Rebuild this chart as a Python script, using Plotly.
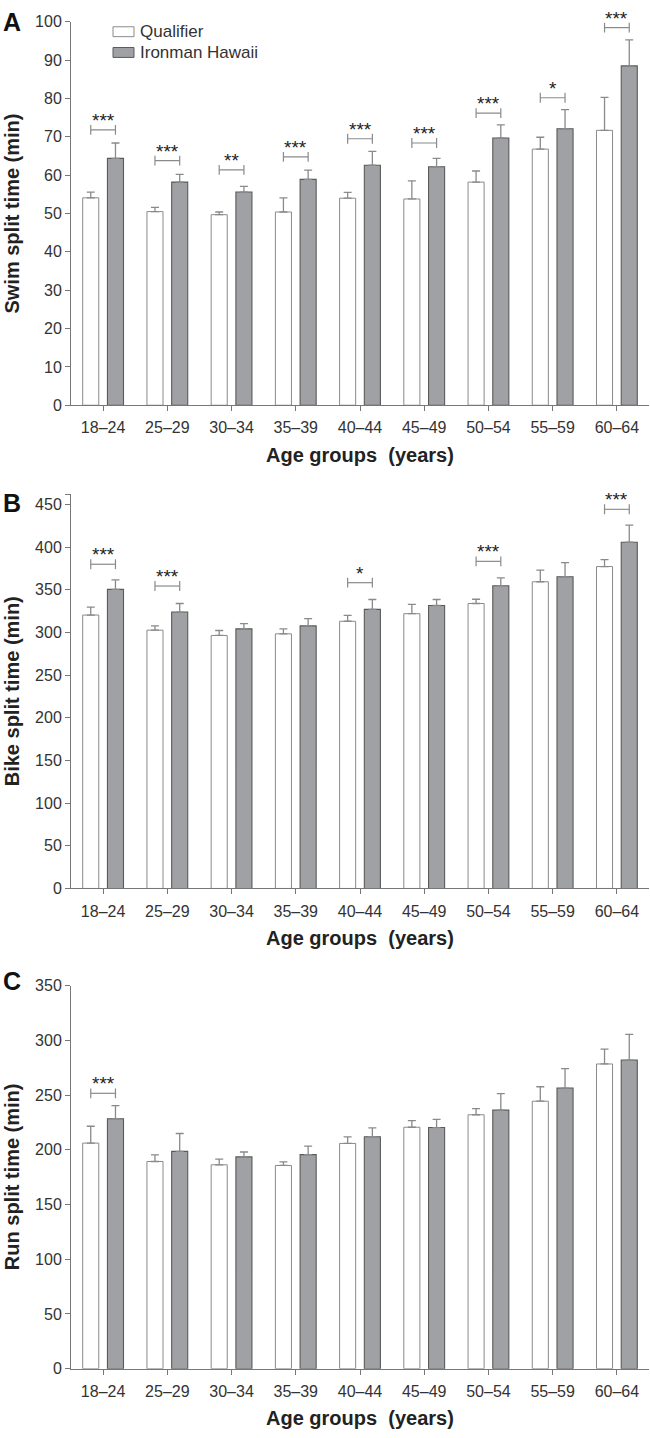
import plotly.graph_objects as go
import numpy as np

categories = ["18–24", "25–29", "30–34", "35–39", "40–44", "45–49", "50–54", "55–59", "60–64"]

swim_q = [54.1, 50.5, 49.7, 50.4, 54.0, 53.8, 58.2, 66.8, 71.7]
swim_q_err = [1.5, 1.1, 0.7, 3.7, 1.5, 4.7, 2.9, 3.1, 8.6]
swim_h = [64.4, 58.2, 55.6, 58.9, 62.6, 62.2, 69.7, 72.1, 88.5]
swim_h_err = [4.0, 2.0, 1.5, 2.4, 3.6, 2.2, 3.4, 5.0, 6.8]
swim_sig = ["***", "***", "**", "***", "***", "***", "***", "*", "***"]
swim_bracket = [71.8, 63.8, 61.4, 64.8, 69.5, 68.4, 76.2, 80.2, 98.5]

bike_q = [320.3, 302.6, 296.4, 298.3, 313.0, 321.9, 333.8, 359.3, 377.1]
bike_q_err = [9.3, 5.0, 5.8, 5.8, 7.0, 10.8, 5.0, 13.5, 8.1]
bike_h = [350.4, 323.8, 304.1, 307.6, 326.9, 331.5, 354.7, 365.1, 405.6]
bike_h_err = [11.2, 10.0, 6.2, 8.5, 11.6, 7.0, 9.2, 16.6, 20.1]
bike_sig = ["***", "***", "", "", "*", "", "***", "", "***"]
bike_bracket = [379.8, 354.3, None, None, 358.2, None, 383.2, None, 444.2]

run_q = [206.1, 189.3, 186.3, 185.7, 205.8, 220.6, 232.0, 244.4, 278.4]
run_q_err = [15.4, 6.0, 5.1, 3.3, 6.0, 6.0, 5.7, 13.2, 13.5]
run_h = [228.4, 198.6, 193.5, 195.6, 211.9, 220.3, 236.2, 256.4, 282.0]
run_h_err = [12.0, 16.3, 4.5, 7.8, 8.1, 7.5, 15.1, 17.7, 23.4]
run_sig = ["***", "", "", "", "", "", "", "", ""]
run_bracket = [251.6, None, None, None, None, None, None, None, None]

W, H = 650, 1438
FONT = "Arial, Liberation Sans, sans-serif"
X0, X1 = 71, 649
BARGAP, GROUPGAP = 0.23, 0.35
OFFS = (1 - BARGAP) / 4  # centre offset of each bar within a group

panels = [
    dict(letter="A", title="Swim split time (min)", q=swim_q, qe=swim_q_err, h=swim_h, he=swim_h_err,
         sig=swim_sig, br=swim_bracket, top=14, bottom=402, rng=[0, 100],
         tickvals=list(range(0, 101, 10)), ticktext=[str(v) for v in range(0, 101, 10)], letter_y=14),
    dict(letter="B", title="Bike split time (min)", q=bike_q, qe=bike_q_err, h=bike_h, he=bike_h_err,
         sig=bike_sig, br=bike_bracket, top=491.9, bottom=891, rng=[0, 462],
         tickvals=list(range(0, 451, 50)) + [462], ticktext=[str(v) for v in range(0, 451, 50)] + [""], letter_y=501),
    dict(letter="C", title="Run split time (min)", q=run_q, qe=run_q_err, h=run_h, he=run_h_err,
         sig=run_sig, br=run_bracket, top=989.3, bottom=1377, rng=[0, 350],
         tickvals=list(range(0, 351, 50)), ticktext=[str(v) for v in range(0, 351, 50)], letter_y=985),
]

fig = go.Figure()
annotations = []
shapes = []
xs = np.arange(len(categories))

for i, p in enumerate(panels):
    n = "" if i == 0 else str(i + 1)
    xa, ya = "x" + n, "y" + n
    fig.add_trace(go.Bar(
        x=xs, y=p["q"], xaxis=xa, yaxis=ya, name="Qualifier", showlegend=False,
        marker=dict(color="white", line=dict(color="#8a8a8a", width=1)),
        error_y=dict(type="data", array=p["qe"], arrayminus=[0] * len(xs), symmetric=False,
                     color="#8a8a8a", thickness=1.3, width=4),
    ))
    fig.add_trace(go.Bar(
        x=xs, y=p["h"], xaxis=xa, yaxis=ya, name="Ironman Hawaii", showlegend=False,
        marker=dict(color="#a0a1a4", line=dict(color="#5a5a5a", width=1.1)),
        error_y=dict(type="data", array=p["he"], arrayminus=[0] * len(xs), symmetric=False,
                     color="#8a8a8a", thickness=1.3, width=4),
    ))
    # significance brackets
    for j, (s, b) in enumerate(zip(p["sig"], p["br"])):
        if not s or b is None:
            continue
        fig.add_trace(go.Scatter(
            x=[xs[j] - OFFS, xs[j] + OFFS], y=[b, b], xaxis=xa, yaxis=ya, mode="lines+markers",
            showlegend=False, hoverinfo="skip",
            line=dict(color="#8a8a8a", width=1.2),
            marker=dict(symbol="line-ns", size=7, line=dict(color="#8a8a8a", width=1.2)),
        ))
        annotations.append(dict(x=xs[j], y=b, xref=xa, yref=ya, text=s, showarrow=False,
                                yanchor="bottom", yshift=-3, font=dict(family=FONT, size=19, color="#222")))

    dom = [(H - p["bottom"]) / H, (H - p["top"]) / H]
    fig.layout["xaxis" + n] = dict(
        domain=[X0 / W, X1 / W], anchor=ya, range=[-0.5, len(categories) - 0.5],
        tickvals=list(xs), ticktext=categories, ticks="outside", ticklen=5, tickcolor="#777",
        showline=True, linecolor="#777", linewidth=1, showgrid=False, zeroline=False,
        tickfont=dict(family=FONT, size=16, color="#333"), ticklabelstandoff=3, fixedrange=True)
    fig.layout["yaxis" + n] = dict(
        domain=dom, anchor=xa, range=p["rng"], tickvals=p["tickvals"], ticktext=p["ticktext"],
        ticks="outside", ticklen=5, tickcolor="#777", showline=True, linecolor="#777", linewidth=1,
        showgrid=False, zeroline=False, tickfont=dict(family=FONT, size=16, color="#333"), fixedrange=True)

    # axis titles
    annotations.append(dict(x=(X0 + X1) / 2 / W, y=(H - (p["bottom"] + 50)) / H, xref="paper", yref="paper",
                            text="<b>Age groups  (years)</b>", showarrow=False, xanchor="center", yanchor="middle",
                            font=dict(family=FONT, size=20, color="#222")))
    annotations.append(dict(x=12 / W, y=(H - (p["top"] + p["bottom"]) / 2) / H, xref="paper", yref="paper",
                            text="<b>" + p["title"] + "</b>", showarrow=False, textangle=-90,
                            xanchor="center", yanchor="middle", font=dict(family=FONT, size=20, color="#222")))
    annotations.append(dict(x=1 / W, y=(H - p["letter_y"]) / H, xref="paper", yref="paper",
                            text="<b>" + p["letter"] + "</b>", showarrow=False, xanchor="left", yanchor="middle",
                            font=dict(family=FONT, size=25, color="#111")))

# legend (drawn manually)
legend_items = [("Qualifier", "white", "#8a8a8a", 24), ("Ironman Hawaii", "#a0a1a4", "#5a5a5a", 45)]
for label, fill, edge, yc in legend_items:
    shapes.append(dict(type="rect", xref="paper", yref="paper", x0=113 / W, x1=134 / W,
                       y0=(H - (yc - 5)) / H, y1=(H - (yc + 5)) / H,
                       fillcolor=fill, line=dict(color=edge, width=1)))
    annotations.append(dict(x=138 / W, y=(H - yc) / H, xref="paper", yref="paper", text=label,
                            showarrow=False, xanchor="left", yanchor="middle",
                            font=dict(family=FONT, size=17, color="#333")))

fig.update_layout(
    width=W, height=H, margin=dict(l=0, r=0, t=0, b=0),
    paper_bgcolor="white", plot_bgcolor="white",
    barmode="group", bargap=BARGAP, bargroupgap=GROUPGAP,
    annotations=annotations, shapes=shapes, showlegend=False,
)

fig.write_html("out.html", config={"displayModeBar": False},
               post_script="document.body.style.margin='0';document.body.style.overflow='hidden';")
